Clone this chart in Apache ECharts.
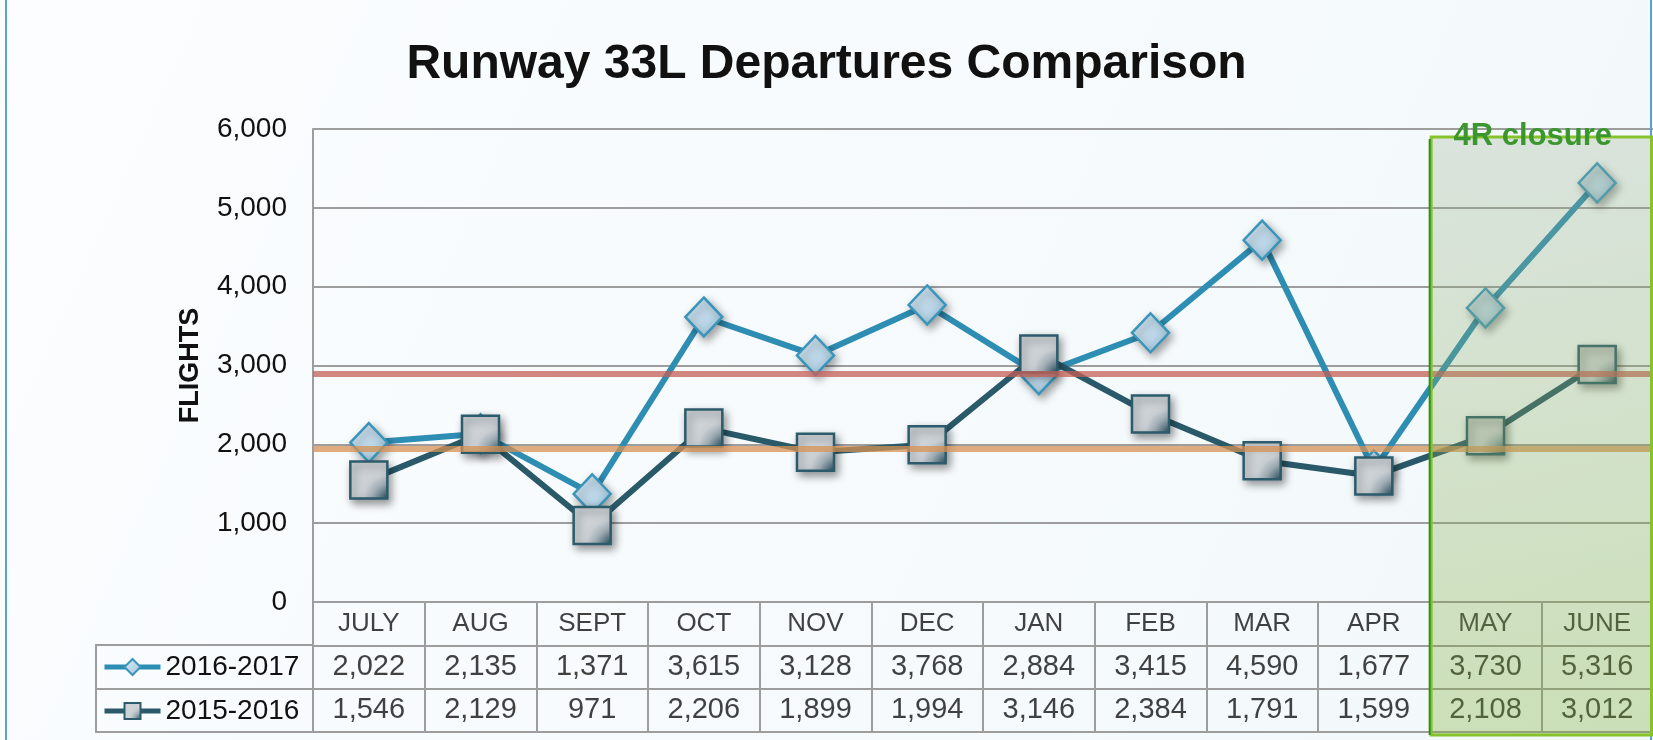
<!DOCTYPE html>
<html lang="en">
<head>
    <meta charset="UTF-8">
    <title>Runway 33L Departures Comparison</title>
    <script src="https://cdn.jsdelivr.net/npm/echarts@6/dist/echarts.min.js"></script>
    <style>
        html, body {margin:0; padding:0; background:#f7fbfd;}
        #main {width:1653px; height:740px;}
    </style>
</head>
<body>
<div id="main"></div>
<script>
    // data
    var months = ['JULY', 'AUG', 'SEPT', 'OCT', 'NOV', 'DEC', 'JAN', 'FEB', 'MAR', 'APR', 'MAY', 'JUNE'];
    var flights1617 = [2022, 2135, 1371, 3615, 3128, 3768, 2884, 3415, 4590, 1677, 3730, 5316];
    var flights1516 = [1546, 2129, 971, 2206, 1899, 1994, 3146, 2384, 1791, 1599, 2108, 3012];
    var seriesNames = ['2016-2017', '2015-2016'];
    var redLevel = 2895;     // red reference line
    var orangeLevel = 1945;  // orange reference line
    var closureMonths = ['MAY', 'JUNE'];

    var FONT = 'Liberation Sans';
    var gridColor = '#9d9d9d';

    function fmt(v) { return Number(v).toLocaleString('en-US'); }

    // table cells: row 0 = months, row 1 = 2016-2017, row 2 = 2015-2016
    var cells = [];
    for (var i = 0; i < months.length; i++) {
        cells.push({value: [i, 0], name: months[i], label: {fontSize: 26}});
        cells.push({value: [i, 1], name: fmt(flights1617[i])});
        cells.push({value: [i, 2], name: fmt(flights1516[i])});
    }

    var myChart = echarts.init(document.getElementById('main'));

    var diamondFill = new echarts.graphic.LinearGradient(0, 0, 1, 1, [
        {offset: 0, color: '#d8e9f4'},
        {offset: 0.6, color: '#b9d5e7'},
        {offset: 1, color: '#8fbad3'}
    ]);
    var squareFill = new echarts.graphic.RadialGradient(1, 1, 0.8, [
        {offset: 0, color: '#1f4a59'},
        {offset: 0.5, color: '#9eabb3'},
        {offset: 0.8, color: '#c9ced3'},
        {offset: 1, color: '#cdd2d6'}
    ]);

    myChart.setOption({
        backgroundColor: new echarts.graphic.LinearGradient(0, 0, 1, 1, [
            {offset: 0, color: '#fbfdfe'},
            {offset: 1, color: '#f2f8fb'}
        ]),
        animation: false,
        title: {
            text: 'Runway 33L Departures Comparison',
            left: 'center',
            top: 36,
            textStyle: {fontFamily: FONT, fontSize: 48, fontWeight: 'bold', color: '#111'}
        },
        legend: {
            orient: 'vertical',
            left: 97,
            top: 647,
            itemWidth: 56,
            itemHeight: 20,
            itemGap: 14,
            selectedMode: false,
            data: seriesNames,
            lineStyle: {width: 5},
            textStyle: {fontFamily: FONT, fontSize: 28, color: '#111', lineHeight: 30}
        },
        grid: [
            {left: 313, right: 0, top: 129, height: 473},
            {left: 313, right: 0, top: 602, height: 130, show: true, borderColor: gridColor, borderWidth: 2},
            {left: 96, width: 217, top: 645, height: 87, show: true, borderColor: gridColor, borderWidth: 2}
        ],
        xAxis: [
            {
                type: 'category', gridIndex: 0, data: months, boundaryGap: true,
                axisLine: {lineStyle: {color: gridColor, width: 2}},
                axisTick: {show: false}, axisLabel: {show: false}
            },
            {
                type: 'category', gridIndex: 1, data: months, boundaryGap: true,
                axisLine: {show: false}, axisTick: {show: false}, axisLabel: {show: false},
                splitLine: {show: true, interval: 0, lineStyle: {color: gridColor, width: 2}}
            },
            {
                type: 'value', gridIndex: 2, min: 0, max: 1, show: false
            }
        ],
        yAxis: [
            {
                type: 'value', gridIndex: 0, min: 0, max: 6000, interval: 1000,
                name: 'FLIGHTS', nameLocation: 'middle', nameGap: 109,
                nameTextStyle: {fontFamily: FONT, fontSize: 27, fontWeight: 'bold', color: '#111'},
                axisLine: {show: true, lineStyle: {color: gridColor, width: 2}},
                axisTick: {show: false},
                axisLabel: {margin: 26, fontFamily: FONT, fontSize: 28, color: '#111', formatter: fmt, padding: [5, 0, 0, 0]},
                splitLine: {lineStyle: {color: gridColor, width: 2}}
            },
            {
                type: 'category', gridIndex: 1, data: ['m', 'a', 'b'], inverse: true,
                axisLine: {show: false}, axisTick: {show: false}, axisLabel: {show: false},
                splitLine: {show: true, interval: 0, lineStyle: {color: gridColor, width: 2}}
            },
            {
                type: 'category', gridIndex: 2, data: ['a', 'b'], inverse: true,
                axisLine: {show: false}, axisTick: {show: false}, axisLabel: {show: false},
                splitLine: {show: true, interval: 0, lineStyle: {color: gridColor, width: 2}}
            }
        ],
        series: [
            {
                name: seriesNames[0],
                type: 'line',
                data: flights1617,
                symbol: 'diamond',
                symbolSize: [37, 39],
                z: 3,
                lineStyle: {color: '#2e8db3', width: 6},
                itemStyle: {
                    color: diamondFill, borderColor: '#3a95ba', borderWidth: 2.5,
                    shadowBlur: 8, shadowColor: 'rgba(0,0,0,0.35)', shadowOffsetX: 3, shadowOffsetY: 4
                }
            },
            {
                name: seriesNames[1],
                type: 'line',
                data: flights1516,
                symbol: 'rect',
                symbolSize: 37,
                z: 4,
                lineStyle: {color: '#2a5a6a', width: 6},
                itemStyle: {
                    color: squareFill, borderColor: '#2c5b6c', borderWidth: 2.5,
                    shadowBlur: 8, shadowColor: 'rgba(0,0,0,0.4)', shadowOffsetX: 3, shadowOffsetY: 4
                }
            },
            {
                name: 'levels',
                type: 'line',
                data: [],
                z: 6,
                silent: true,
                markLine: {
                    silent: true,
                    symbol: 'none',
                    label: {show: false},
                    data: [
                        {yAxis: redLevel, lineStyle: {color: 'rgba(196,96,86,0.75)', width: 6, type: 'solid'}},
                        {yAxis: orangeLevel, lineStyle: {color: 'rgba(214,146,84,0.75)', width: 6, type: 'solid'}}
                    ]
                }
            },
            {
                name: 'table',
                type: 'scatter',
                xAxisIndex: 1,
                yAxisIndex: 1,
                silent: true,
                symbolSize: 1,
                itemStyle: {color: 'rgba(0,0,0,0)'},
                data: cells,
                label: {
                    show: true,
                    position: 'inside',
                    fontFamily: FONT,
                    color: '#111',
                    formatter: function (p) { return p.data.name; },
                    fontSize: 29
                }
            }
        ]
    });

    // shaded box for the 4R closure months
    var pMay = myChart.convertToPixel({gridIndex: 0}, [closureMonths[0], 0]);
    var pJune = myChart.convertToPixel({gridIndex: 0}, [closureMonths[1], 6000]);
    var band = pJune[0] - pMay[0];
    var bx0 = pMay[0] - band / 2;
    var bx1 = Math.min(pJune[0] + band / 2, 1652);
    var by0 = pJune[1] + 8;
    var by1 = 735;

    myChart.setOption({
        graphic: [
            {
                type: 'rect', z: 1, silent: true,
                shape: {x: 6, y: -4, width: 1645, height: 750},
                style: {fill: null, stroke: '#5aa3cb', lineWidth: 2}
            },
            {
                type: 'rect', z: 50, silent: true,
                shape: {x: bx0 + 1.5, y: by0, width: bx1 - bx0 - 2, height: by1 - by0},
                style: {
                    fill: new echarts.graphic.LinearGradient(0, 0, 0.4, 1, [
                        {offset: 0, color: 'rgba(150,172,140,0.28)'},
                        {offset: 1, color: 'rgba(120,170,40,0.32)'}
                    ]),
                    stroke: '#86c32a', lineWidth: 3
                }
            },
            {
                type: 'line', z: 51, silent: true,
                shape: {x1: bx0, y1: by0 + 2, x2: bx0, y2: by1},
                style: {stroke: '#2f8f1c', lineWidth: 2}
            },
            {
                type: 'text', z: 52, silent: true,
                x: (bx0 + bx1) / 2 - 8, y: by0 + 15,
                style: {
                    text: '4R closure', align: 'center', verticalAlign: 'bottom',
                    font: 'bold 31px "Liberation Sans"', fill: '#3b9630'
                }
            }
        ]
    });
</script>
</body>
</html>
